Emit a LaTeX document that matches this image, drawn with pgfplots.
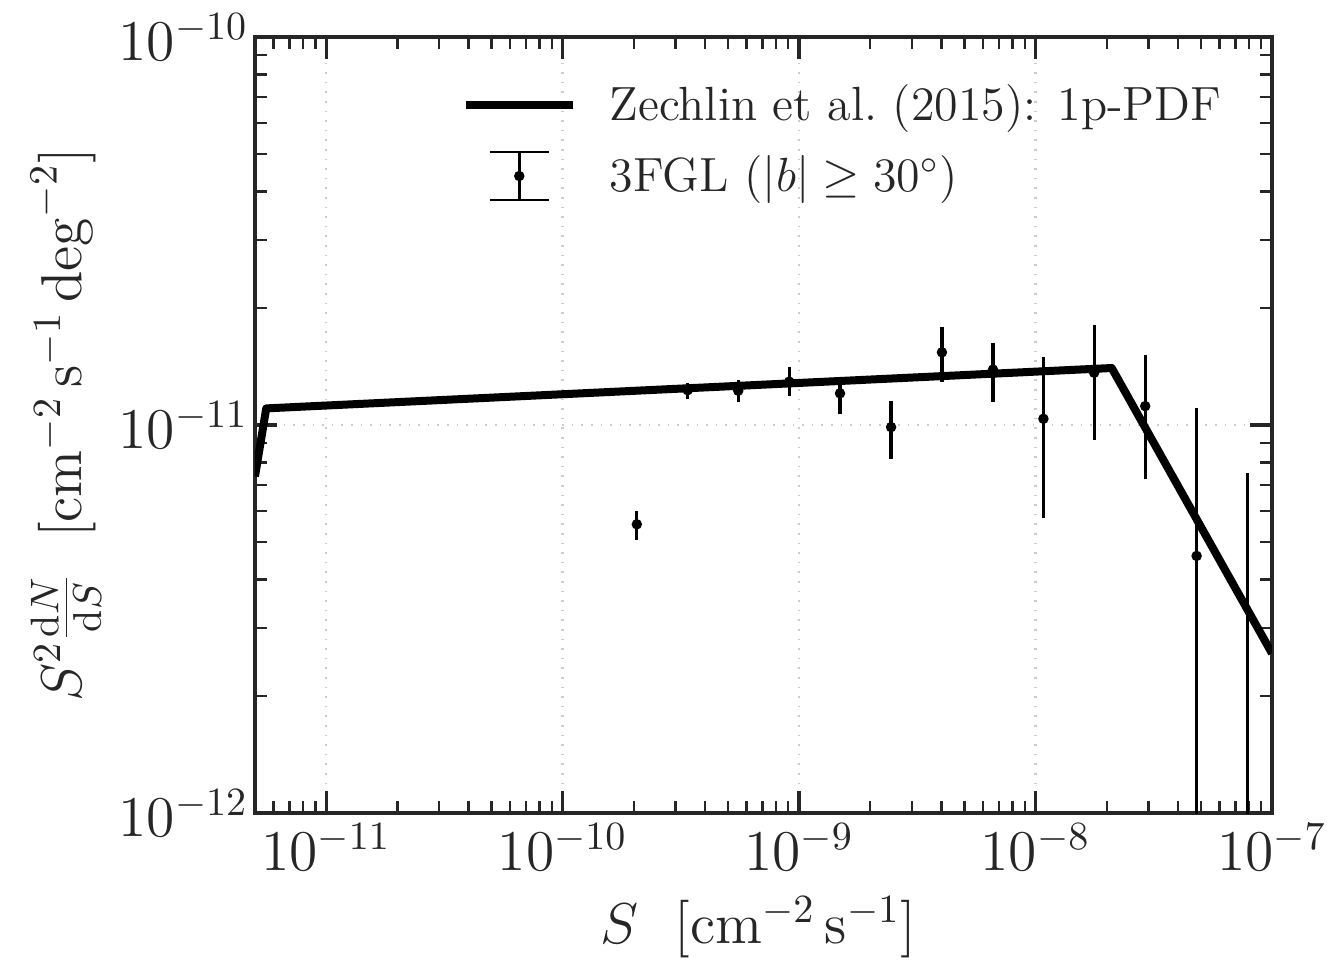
\documentclass[border=0pt]{standalone}
\usepackage{pgfplots}
\pgfplotsset{compat=1.18}
\definecolor{txt}{gray}{0.15}
\definecolor{gridc}{gray}{0.8}
\begin{document}
\begin{tikzpicture}[font=\fontsize{12}{14.4}\selectfont]
\path[use as bounding box] (-63.75pt,-37.5pt) rectangle (270.25pt,203.25pt);
\begin{axis}[
  at={(0,0)}, anchor=south west,
  scale only axis, width=254.25pt, height=194pt,
  xmode=log, ymode=log,
  xmin=5e-12, xmax=1e-7, ymin=1e-12, ymax=1e-10,
  axis line style={color=txt, line width=0.85pt},
  tick align=inside,
  major tick length=5.5pt, minor tick length=3pt,
  every major tick/.append style={line width=0.8pt, color=txt},
  every minor tick/.append style={line width=0.6pt, color=txt},
  xtick={1e-11,1e-10,1e-9,1e-8,1e-7},
  ytick={1e-12,1e-11,1e-10},
  minor xtick={6e-12,7e-12,8e-12,9e-12,2e-11,3e-11,4e-11,5e-11,6e-11,7e-11,8e-11,9e-11,
    2e-10,3e-10,4e-10,5e-10,6e-10,7e-10,8e-10,9e-10,2e-9,3e-9,4e-9,5e-9,6e-9,7e-9,8e-9,9e-9,
    2e-8,3e-8,4e-8,5e-8,6e-8,7e-8,8e-8,9e-8},
  minor ytick={2e-12,3e-12,4e-12,5e-12,6e-12,7e-12,8e-12,9e-12,2e-11,3e-11,4e-11,5e-11,6e-11,7e-11,8e-11,9e-11},
  xmajorgrids, ymajorgrids,
  major grid style={gridc, dotted, line width=0.6pt},
  ticklabel style={color=txt, font=\fontsize{13.7}{16}\selectfont},
  xticklabel style={inner sep=2.5pt},
  yticklabel style={inner sep=1.5pt},
  xlabel={$S\ \ \bigl[\mathrm{cm}^{-2}\,\mathrm{s}^{-1}\bigr]$},
  ylabel={$S^2\frac{\mathrm{d}N}{\mathrm{d}S}\ \ \bigl[\mathrm{cm}^{-2}\,\mathrm{s}^{-1}\,\mathrm{deg}^{-2}\bigr]$},
  label style={color=txt, font=\fontsize{13.7}{16}\selectfont, inner sep=0pt},
  xlabel style={at={(axis description cs:0.495,0)}, anchor=center, yshift=-28.5pt},
  ylabel style={at={(axis description cs:-0.186,0.5)}, anchor=center},
  legend style={at={(rel axis cs:0.951,0.94)}, anchor=north east, draw=none, fill=none,
    inner sep=0pt, row sep=6pt, nodes={inner sep=0pt, text=txt},
    /tikz/every odd column/.append style={column sep=8.25pt}},
  legend cell align=left,
  unbounded coords=jump,
]
% model curve
\addplot[black, line width=2pt, line join=round,
  legend image code/.code={\draw[black, line width=2pt] (0pt,0pt) -- (26.75pt,0pt);}]
  coordinates {(5e-12,7.37e-12) (5.58e-12,1.104e-11) (2.10e-8,1.403e-11) (1e-7,2.58e-12)};
\addlegendentry{Zechlin et al.\ (2015): 1p-PDF}
% error bars
\addplot[black, line width=0.8pt, forget plot] coordinates {
  (2.06e-10,5.07e-12) (2.06e-10,6.01e-12) (2.06e-10,nan)
  (3.38e-10,1.165e-11) (3.38e-10,1.285e-11) (3.38e-10,nan)
  (5.53e-10,1.149e-11) (5.53e-10,1.306e-11) (5.53e-10,nan)
  (9.08e-10,1.19e-11) (9.08e-10,1.41e-11) (9.08e-10,nan)
  (1.49e-9,1.066e-11) (1.49e-9,1.28e-11) (1.49e-9,nan)
  (2.45e-9,8.2e-12) (2.45e-9,1.153e-11) (2.45e-9,nan)
  (4.02e-9,1.294e-11) (4.02e-9,1.79e-11) (4.02e-9,nan)
  (6.61e-9,1.149e-11) (6.61e-9,1.63e-11) (6.61e-9,nan)
  (1.08e-8,5.75e-12) (1.08e-8,1.50e-11) (1.08e-8,nan)
  (1.77e-8,9.15e-12) (1.77e-8,1.81e-11) (1.77e-8,nan)
  (2.91e-8,7.24e-12) (2.91e-8,1.514e-11) (2.91e-8,nan)
  (4.80e-8,1e-13) (4.80e-8,1.106e-11) (4.80e-8,nan)
  (7.85e-8,1e-13) (7.85e-8,7.52e-12)
};
% data points
\addplot[only marks, mark=*, mark size=1.1pt, black,
  legend image code/.code={
    \draw[black, line width=0.8pt] (13.4pt,-6pt) -- (13.4pt,6pt);
    \draw[black, line width=0.45pt] (6pt,-6pt) -- (20.8pt,-6pt) (6pt,6pt) -- (20.8pt,6pt);
    \fill[black] (13.4pt,0pt) circle (1.1pt);}]
  coordinates {
  (2.06e-10,5.55e-12) (3.38e-10,1.23e-11) (5.53e-10,1.226e-11) (9.08e-10,1.294e-11)
  (1.49e-9,1.207e-11) (2.45e-9,9.88e-12) (4.02e-9,1.54e-11) (6.61e-9,1.39e-11)
  (1.08e-8,1.038e-11) (1.77e-8,1.364e-11) (2.91e-8,1.119e-11) (4.80e-8,4.60e-12)
};
\addlegendentry{3FGL ($|b|\geq 30^{\circ}$)}
\end{axis}
\end{tikzpicture}
\end{document}
